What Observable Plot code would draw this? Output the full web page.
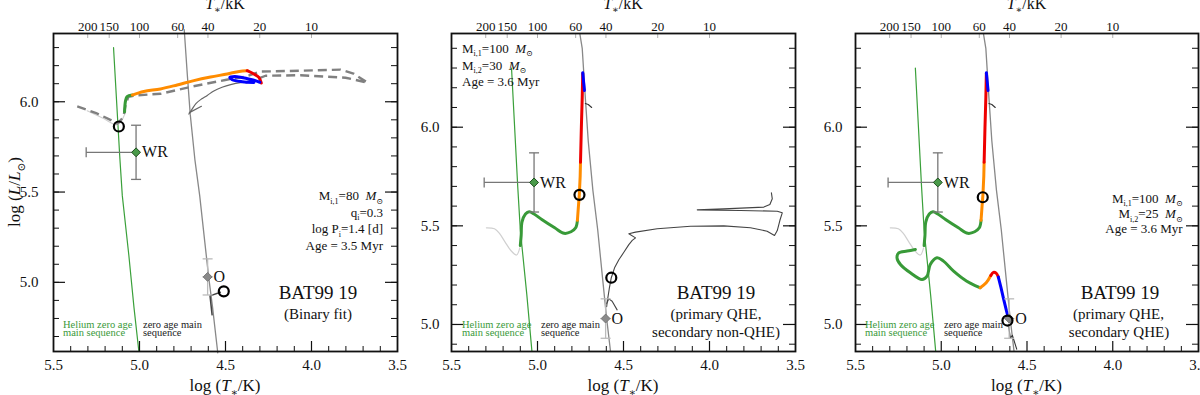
<!DOCTYPE html>
<html><head><meta charset="utf-8">
<script src="https://cdn.jsdelivr.net/npm/d3@7"></script>
<script src="https://cdn.jsdelivr.net/npm/@observablehq/plot@0.6"></script>
<style>
body{margin:0;background:#fff;}
#wrap{position:relative;width:1200px;height:395px;overflow:hidden;background:#fff;}
#wrap svg{position:absolute;top:0;}
#wrap svg, #wrap svg text, #wrap svg tspan{font-family:"Liberation Serif","DejaVu Serif","Times New Roman",serif !important;}
</style></head><body><div id="wrap"></div>
<script>
// ---------- tick values / labels ----------
const xLabelTicks = [5.5, 5.0, 4.5, 4.0, 3.5];
const xMajorTicks = [5.0, 4.5, 4.0];
const xMinorTicks = [5.4,5.3,5.2,5.1,4.9,4.8,4.7,4.6,4.4,4.3,4.2,4.1,3.9,3.8,3.7,3.6];
const yLabelTicks = [5.0, 5.5, 6.0];
const yTicksP1 = [4.7,4.8,4.9,5.0,5.1,5.2,5.3,5.4,5.5,5.6,5.7,5.8,5.9,6.0,6.1,6.2,6.3];
const yTicksP23 = [4.9,5.0,5.1,5.2,5.3,5.4,5.5,5.6,5.7,5.8,5.9,6.0,6.1,6.2,6.3,6.4];
const tempTicksKK = [200, 150, 100, 60, 40, 20, 10];

// ---------- reference lines [logT, logL] ----------
const heZams = [[5.151,6.30],[5.115,5.70],[5.100,5.48],[5.062,5.15],[5.032,4.86],[5.004,4.62]];
const zams = [[4.755,6.48],[4.740,6.40],[4.722,6.15],[4.705,5.93],[4.678,5.68],[4.650,5.48],[4.620,5.22],[4.598,5.03],[4.575,4.86],[4.545,4.61]];

// ---------- observations ----------
const obsWR = {T:5.02, L:5.72, Tlo:5.31, Thi:5.00, Llo:5.57, Lhi:5.87};
const obsO  = {T:4.604, L:5.03, Tlo:4.634, Thi:4.574, Llo:4.93, Lhi:5.13};

// ---------- panel 1 (binary fit) ----------
const faintP1  = [[5.304,5.950],[5.215,5.910],[5.130,5.872],[5.105,5.894],[5.081,5.944]];
const greenP1  = [[5.087,5.944],[5.081,6.006],[5.072,6.029],[5.042,6.037]];
const orangeP1 = [[5.042,6.037],[4.975,6.057],[4.878,6.071],[4.781,6.093],[4.684,6.117],[4.587,6.137],[4.490,6.154],[4.420,6.168],[4.374,6.172]];
const redP1    = [[4.374,6.172],[4.335,6.154],[4.306,6.135],[4.292,6.104]];
const blueP1   = [[4.300,6.108],[4.326,6.117],[4.365,6.126],[4.432,6.139],[4.475,6.135],[4.461,6.122],[4.403,6.111],[4.335,6.107]];
const dashedP1 = [[5.362,5.974],[5.256,5.939],[5.169,5.900],[5.128,5.878],[5.093,5.917],[5.081,5.983],[5.064,6.028],[5.012,6.036],[4.878,6.044],[4.686,6.086],[4.494,6.122],[4.384,6.139],[4.297,6.167],[4.064,6.172],[3.831,6.178],[3.756,6.156],[3.674,6.106],[3.802,6.133],[4.064,6.147],[4.267,6.144],[4.326,6.122],[4.384,6.106]];
const secP1    = [[4.713,5.932],[4.695,5.958],[4.672,5.990],[4.640,6.015],[4.606,6.035],[4.568,6.060],[4.520,6.080],[4.470,6.095],[4.413,6.106],[4.360,6.110]];
const hookP1   = [[4.710,5.940],[4.640,5.975]];
const secLowP1 = [[4.578,4.82],[4.590,4.925],[4.530,4.945]];
const circlesP1 = [[5.120,5.863],[4.510,4.950]];

// ---------- panels 2 and 3: QHE primary (100 Msun) ----------
const faintQ  = [[5.297,5.490],[5.250,5.485],[5.220,5.460],[5.190,5.420],[5.155,5.375],[5.122,5.352],[5.103,5.388]];
const greenQ  = [[5.100,5.400],[5.095,5.450],[5.090,5.520],[5.070,5.560],[5.048,5.572],[5.020,5.560],[4.975,5.532],[4.900,5.490],[4.845,5.462],[4.805,5.470],[4.778,5.490],[4.768,5.528]];
const orangeQ = [[4.768,5.528],[4.762,5.600],[4.757,5.657],[4.752,5.750],[4.750,5.822]];
const redQ    = [[4.750,5.822],[4.745,6.000],[4.740,6.150],[4.737,6.272]];
const blueQ   = [[4.737,6.276],[4.732,6.230],[4.727,6.186]];
const hookQ   = [[4.722,6.120],[4.705,6.115],[4.685,6.100]];

// panel 2: non-QHE secondary (30 Msun)
const secP2 = [[4.598,5.090],[4.595,5.113],[4.583,5.180],[4.571,5.237],[4.552,5.287],[4.527,5.328],[4.498,5.366],[4.469,5.405],[4.449,5.426],[4.430,5.439],[4.469,5.460],[4.430,5.468],[4.304,5.485],[4.110,5.498],[3.917,5.500],[3.762,5.490],[3.665,5.473],[3.622,5.451],[3.606,5.476],[3.591,5.527],[3.577,5.566],[3.606,5.574],[3.820,5.578],[4.071,5.581],[3.917,5.586],[3.684,5.595],[3.649,5.608],[3.635,5.637],[3.640,5.667]];
const kinkP2 = [[4.599,5.105],[4.585,5.130],[4.566,5.118],[4.537,5.074]];
const circlesP2 = [[4.756,5.657],[4.571,5.237]];

// panel 3: QHE secondary (25 Msun)
const greenS3  = [[5.151,5.380],[5.199,5.372],[5.248,5.363],[5.258,5.338],[5.238,5.304],[5.180,5.262],[5.112,5.228],[5.083,5.245],[5.064,5.304],[5.025,5.338],[4.987,5.321],[4.928,5.270],[4.851,5.219],[4.773,5.186]];
const orangeS3 = [[4.773,5.186],[4.738,5.211],[4.711,5.248]];
const redS3    = [[4.711,5.248],[4.696,5.264],[4.680,5.260],[4.667,5.240]];
const blueS3   = [[4.667,5.240],[4.652,5.188],[4.638,5.135],[4.620,5.070],[4.609,5.034]];
const darkS3   = [[4.608,5.000],[4.597,4.930],[4.585,4.945],[4.560,4.875]];
const circlesP3 = [[4.758,5.645],[4.614,5.020]];

// ---------- style ----------
const SERIF = "Liberation Serif, DejaVu Serif, serif";
const GREEN = "#389a38", ORANGE = "#ff8c00", RED = "#ee0000", BLUE = "#0000ff";
const W = 400, H = 395, MT = 33, MB = 44;

const capH = {draw(ctx){ ctx.moveTo(-5,0); ctx.lineTo(5,0); }};
const capV = {draw(ctx){ ctx.moveTo(0,-5); ctx.lineTo(0,5); }};

function track(data, stroke, width=3, curve="catmull-rom", extra={}) {
  return Plot.line(data, {stroke, strokeWidth: width, curve, strokeLinecap:"round", strokeLinejoin:"round", ...extra});
}

function obsMarks() {
  return [
    Plot.link([obsO], {x1:"Tlo", x2:"Thi", y1:"L", y2:"L", stroke:"#bbb", strokeWidth:1.3}),
    Plot.link([obsO], {x1:"T", x2:"T", y1:"Llo", y2:"Lhi", stroke:"#bbb", strokeWidth:1.3}),
    Plot.dot([obsO], {x:"T", y:"Llo", symbol:capH, stroke:"#bbb", fill:"none", strokeWidth:1.3}),
    Plot.dot([obsO], {x:"T", y:"Lhi", symbol:capH, stroke:"#bbb", fill:"none", strokeWidth:1.3}),
    Plot.link([obsWR], {x1:"Tlo", x2:"Thi", y1:"L", y2:"L", stroke:"#777", strokeWidth:1.3}),
    Plot.link([obsWR], {x1:"T", x2:"T", y1:"Llo", y2:"Lhi", stroke:"#777", strokeWidth:1.3}),
    Plot.dot([obsWR], {x:"Tlo", y:"L", symbol:capV, stroke:"#777", fill:"none", strokeWidth:1.3}),
    Plot.dot([obsWR], {x:"T", y:"Llo", symbol:capH, stroke:"#777", fill:"none", strokeWidth:1.3}),
    Plot.dot([obsWR], {x:"T", y:"Lhi", symbol:capH, stroke:"#777", fill:"none", strokeWidth:1.3}),
    Plot.dot([obsWR], {x:"T", y:"L", symbol:"diamond2", r:4, fill:"#4a9a4a", stroke:"#1f4f1f", strokeWidth:1}),
    Plot.dot([obsO], {x:"T", y:"L", symbol:"diamond2", r:4, fill:"#8a8a8a", stroke:"#777", strokeWidth:1}),
    Plot.text([obsWR], {x:"T", y:"L", text:()=>"WR", dx:6, textAnchor:"start", lineAnchor:"middle", fontSize:16, fill:"#111"}),
    Plot.text([obsO], {x:"T", y:"L", text:()=>"O", dx:6, textAnchor:"start", lineAnchor:"middle", fontSize:16, fill:"#111"})
  ];
}

function richText(svg, x, y, parts, {anchor="start", size=13, fill="#111", rotate=0}={}) {
  const t = d3.select(svg).append("text").attr("x", x).attr("y", y)
    .attr("text-anchor", anchor).attr("font-size", size).attr("fill", fill)
    .style("white-space","pre");
  if (rotate) t.attr("transform", `rotate(${rotate},${x},${y})`);
  let shift = 0;
  for (const p of parts) {
    const [s, k=""] = Array.isArray(p) ? p : [p];
    const ts = t.append("tspan").text(s);
    const target = k.includes("_") ? size*0.28 : 0;
    if (target !== shift) { ts.attr("dy", target - shift); shift = target; }
    if (k.includes("_")) ts.attr("font-size", size*0.62);
    if (k.includes("i")) ts.attr("font-style", "italic");
  }
  return t;
}

function makePanel({left, mL, mR, yDomain, yTicks, yPad, marks}) {
  const innerW = W - mL - mR, innerH = H - MT - MB;
  const svg = Plot.plot({
    width: W, height: H, marginTop: MT, marginBottom: MB, marginLeft: mL, marginRight: mR,
    style: {fontFamily: SERIF, fontSize: "15px", color: "#111", background: "transparent", overflow: "visible"},
    x: {domain: [5.5, 3.5], label: null},
    y: {domain: yDomain, label: null},
    marks: [
      ...marks,
      Plot.tickX(xMinorTicks, {stroke:"#111", strokeWidth:1, insetTop: innerH - 5}),
      Plot.tickX(xMajorTicks, {stroke:"#111", strokeWidth:1.2, insetTop: innerH - 10}),
      Plot.tickX(tempTicksKK.map(t => Math.log10(t * 1000)), {stroke:"#b0b0b0", strokeWidth:1, insetBottom: innerH - 5}),
      Plot.tickY(yTicks, {stroke:"#111", strokeWidth:1, insetRight: innerW - 6}),
      Plot.tickY(yTicks, {stroke:"#111", strokeWidth:1, insetLeft: innerW - 6}),
      Plot.tickY(yLabelTicks, {stroke:"#111", strokeWidth:1.2, insetRight: innerW - 12}),
      Plot.tickY(yLabelTicks, {stroke:"#111", strokeWidth:1.2, insetLeft: innerW - 12}),
      Plot.frame({stroke:"#111", strokeWidth:1.8}),
      Plot.axisX(xLabelTicks, {anchor:"bottom", tickSize:0, tickPadding:8, tickFormat: d3.format(".1f"), fontSize:15, label:null}),
      Plot.axisX(tempTicksKK.map(t => Math.log10(t * 1000)), {anchor:"top", tickSize:0, tickPadding:3, tickFormat: d => String(Math.round(Math.pow(10, d) / 1000)), fontSize:13, label:null}),
      Plot.axisY(yLabelTicks, {anchor:"left", tickSize:0, tickPadding:yPad, tickFormat: d3.format(".1f"), fontSize:15, label:null})
    ]
  });
  svg.style.left = left + "px";
  document.getElementById("wrap").appendChild(svg);
  const cx = mL + innerW / 2;
  richText(svg, cx, 9, [["T","i"],["\u2217","_"],"/kK"], {anchor:"middle", size:16});
  richText(svg, cx, 391, ["log (", ["T","i"], ["\u2217","_"], "/K)"], {anchor:"middle", size:17});
  return svg;
}

function zamsLabels(svg, xHe, xZ) {
  richText(svg, xHe, 327.5, ["Helium zero age"], {size:10.5, fill:"#3a9a3a"});
  richText(svg, xHe, 335.5, ["main sequence"], {size:10.5, fill:"#3a9a3a"});
  richText(svg, xZ, 327.5, ["zero age main"], {size:10.5, fill:"#222"});
  richText(svg, xZ, 335.5, ["sequence"], {size:10.5, fill:"#222"});
}

// ---------- Panel 1 ----------
const s1 = makePanel({
  left: 0, mL: 53, mR: 3, yDomain: [4.617, 6.378], yTicks: yTicksP1, yPad: 15,
  marks: [
    Plot.line(zams.filter(d => d[1] <= 6.42), {stroke:"#888", strokeWidth:1.3}),
    Plot.line(heZams, {stroke:"#3aa03a", strokeWidth:1.2, clip:true}),
    track(faintP1, "#cfcfcf", 1.2),
    track(secP1, "#666", 1.2),
    track(hookP1, "#666", 1.2, "linear"),
    track(secLowP1, "#444", 1.5, "linear"),
    track(dashedP1, "#808080", 2.4, "linear", {strokeDasharray:"9,5", strokeLinecap:"butt"}),
    track(greenP1, GREEN),
    track(orangeP1, ORANGE),
    track(redP1, RED),
    track(blueP1, BLUE),
    ...obsMarks(),
    Plot.dot(circlesP1, {r:5, stroke:"black", strokeWidth:2.2, fill:"none"})
  ]
});
richText(s1, 20, 192, ["log (", ["L","i"], "/", ["L","i"], ["\u2299","_"], ")"], {anchor:"middle", size:17, rotate:-90});
richText(s1, 383, 200, ["M", ["i,1","_"], "=80  ", ["M","i"], ["\u2299","_"]], {anchor:"end", size:13});
richText(s1, 383, 216.5, ["q", ["i","_"], "=0.3"], {anchor:"end", size:13});
richText(s1, 383, 233, ["log P", ["i","_"], "=1.4 [d]"], {anchor:"end", size:13});
richText(s1, 383, 249.5, ["Age = 3.5 Myr"], {anchor:"end", size:13});
richText(s1, 318, 299, ["BAT99 19"], {anchor:"middle", size:19});
richText(s1, 318, 318.5, ["(Binary fit)"], {anchor:"middle", size:15});
zamsLabels(s1, 63, 143);

// ---------- Panel 2 ----------
const s2 = makePanel({
  left: 400, mL: 51, mR: 5, yDomain: [4.863, 6.475], yTicks: yTicksP23, yPad: 12,
  marks: [
    Plot.line(zams, {stroke:"#888", strokeWidth:1.3, clip:true}),
    Plot.line(heZams, {stroke:"#3aa03a", strokeWidth:1.2, clip:true}),
    track(faintQ, "#d0d0d0", 1.2),
    track(secP2, "#444", 1.1, "linear"),
    track(kinkP2, "#444", 1.1, "linear"),
    track(hookQ, "#333", 1.1, "linear"),
    track(greenQ, GREEN),
    track(orangeQ, ORANGE, 3, "linear"),
    track(redQ, RED, 3, "linear"),
    track(blueQ, BLUE, 3, "linear"),
    ...obsMarks(),
    Plot.dot(circlesP2, {r:5, stroke:"black", strokeWidth:2.2, fill:"none"})
  ]
});
richText(s2, 62, 52.5, ["M", ["i,1","_"], "=100  ", ["M","i"], ["\u2299","_"]], {size:13});
richText(s2, 62, 69.5, ["M", ["i,2","_"], "=30  ", ["M","i"], ["\u2299","_"]], {size:13});
richText(s2, 62, 85.5, ["Age = 3.6 Myr"], {size:13});
richText(s2, 316, 299, ["BAT99 19"], {anchor:"middle", size:19});
richText(s2, 316, 318.5, ["(primary QHE,"], {anchor:"middle", size:15});
richText(s2, 316, 336.5, ["secondary non-QHE)"], {anchor:"middle", size:15});
zamsLabels(s2, 62, 141);

// ---------- Panel 3 ----------
const s3 = makePanel({
  left: 800, mL: 55, mR: 2, yDomain: [4.863, 6.475], yTicks: yTicksP23, yPad: 13,
  marks: [
    Plot.line(zams, {stroke:"#888", strokeWidth:1.3, clip:true}),
    Plot.line(heZams, {stroke:"#3aa03a", strokeWidth:1.2, clip:true}),
    track(faintQ, "#d0d0d0", 1.2),
    track(hookQ, "#333", 1.1, "linear"),
    track(darkS3, "#333", 1.1, "linear", {clip:true}),
    track(greenQ, GREEN),
    track(orangeQ, ORANGE, 3, "linear"),
    track(redQ, RED, 3, "linear"),
    track(blueQ, BLUE, 3, "linear"),
    track(greenS3, GREEN),
    track(orangeS3, ORANGE),
    track(redS3, RED),
    track(blueS3, BLUE, 3, "linear"),
    ...obsMarks(),
    Plot.dot(circlesP3, {r:5, stroke:"black", strokeWidth:2.2, fill:"none"})
  ]
});
richText(s3, 382.7, 202.5, ["M", ["i,1","_"], "=100  ", ["M","i"], ["\u2299","_"]], {anchor:"end", size:13});
richText(s3, 382.7, 218, ["M", ["i,2","_"], "=25  ", ["M","i"], ["\u2299","_"]], {anchor:"end", size:13});
richText(s3, 382.7, 233, ["Age = 3.6 Myr"], {anchor:"end", size:13});
richText(s3, 320, 299, ["BAT99 19"], {anchor:"middle", size:19});
richText(s3, 318.5, 318.5, ["(primary QHE,"], {anchor:"middle", size:15});
richText(s3, 319, 336.5, ["secondary QHE)"], {anchor:"middle", size:15});
zamsLabels(s3, 65, 144);
</script></body></html>
